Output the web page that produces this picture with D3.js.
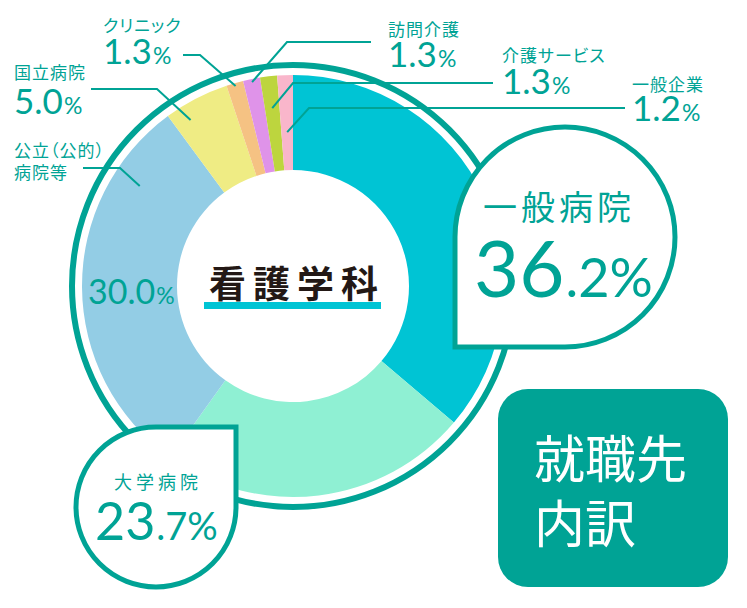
<!DOCTYPE html>
<html>
<head>
<meta charset="utf-8">
<script src="https://cdn.jsdelivr.net/npm/d3@7"></script>
<style>
  body { margin: 0; background: #fff; }
  svg { display: block; }
  text { font-family: "Noto Sans CJK JP", "Noto Sans", sans-serif; }
  .num { font-family: Lato, "Noto Sans", sans-serif; }
  .label { font-feature-settings: "palt"; }
</style>
</head>
<body>
<div id="chart"></div>
<script>
//////////////////////////////////////////////////////////////
///////////////////////// Data ///////////////////////////////
//////////////////////////////////////////////////////////////

var categories = ["一般病院", "大学病院", "公立（公的）病院等", "国立病院", "クリニック", "訪問介護", "介護サービス", "一般企業"];
var values = [36.2, 23.7, 30.0, 5.0, 1.3, 1.3, 1.3, 1.2];
var colors = ["#00c4d4", "#8ff0d3", "#93cde5", "#efec84", "#f5c283", "#df93e9", "#bdd53e", "#f9b6cb"];

var title = "看護学科";
var boxLines = ["就職先", "内訳"];

//////////////////////////////////////////////////////////////
/////////////////////// Settings /////////////////////////////
//////////////////////////////////////////////////////////////

var width = 747, height = 608;
var cx = 293, cy = 286;
var innerR = 116, outerR = 211, ringR = 221;
var teal = "#00a395";

//small labels: index into data, text lines, leader geometry
var smallLabels = [
  {i: 4, lines: ["クリニック"], tx: 103, ty: [32], ny: 64, x0: 183, elbow: [200, 55], r: 208, t: 0.5},
  {i: 3, lines: ["国立病院"], tx: 14, ty: [79], ny: 114, x0: 91, elbow: [157, 89], r: 195, t: 0.26},
  {i: 2, lines: ["公立（公的）", "病院等"], tx: 14, ty: [157, 179], ny: null, x0: 83, elbow: [120, 168], r: 183, t: 0.81},
  {i: 5, lines: ["訪問介護"], tx: 388, ty: [36], ny: 67, x0: 371, elbow: [287, 42], r: 208, t: 0.5},
  {i: 6, lines: ["介護サービス"], tx: 502, ty: [62], ny: 94, x0: 493, elbow: [293, 83], r: 179, t: 0.5},
  {i: 7, lines: ["一般企業"], tx: 632, ty: [91], ny: 121, x0: 625, elbow: [309, 108], r: 154, t: 0.5}
];

//////////////////////////////////////////////////////////////
///////////////////////// Chart //////////////////////////////
//////////////////////////////////////////////////////////////

var data = categories.map(function(c, k) { return {name: c, value: values[k], color: colors[k]}; });

var pie = d3.pie().sort(null).value(function(d) { return d.value; });
var arcs = pie(data);
var arc = d3.arc().innerRadius(innerR).outerRadius(outerR);

var svg = d3.select("#chart").append("svg")
    .attr("width", width)
    .attr("height", height);

//outer ring
svg.append("circle")
    .attr("cx", cx).attr("cy", cy).attr("r", ringR)
    .attr("fill", "none")
    .attr("stroke", teal)
    .attr("stroke-width", 6);

var donut = svg.append("g")
    .attr("transform", "translate(" + cx + "," + cy + ")");

donut.selectAll(".slice")
    .data(arcs).enter()
    .append("path")
        .attr("class", "slice")
        .attr("d", arc)
        .attr("fill", function(d) { return d.data.color; });

//point inside a slice
function slicePoint(a, r, t) {
  var ang = a.startAngle + t * (a.endAngle - a.startAngle);
  return [cx + r * Math.sin(ang), cy - r * Math.cos(ang)];
}

//number with smaller tail
function addNumber(sel, v, x, y, big, small, splitDecimal) {
  var s = v.toFixed(1);
  var head = splitDecimal ? s.split(".")[0] : s;
  var tail = splitDecimal ? "." + s.split(".")[1] + "%" : "%";
  var t = sel.append("text")
      .attr("class", "num")
      .attr("x", x).attr("y", y)
      .attr("fill", teal);
  t.append("tspan").attr("font-size", big).text(head);
  t.append("tspan").attr("font-size", small).attr("dx", 1).text(tail);
  return t;
}

//leader lines
svg.selectAll(".leader")
    .data(smallLabels).enter()
    .append("polyline")
        .attr("class", "leader")
        .attr("fill", "none")
        .attr("stroke", teal)
        .attr("stroke-width", 2)
        .attr("points", function(d) {
          var p = slicePoint(arcs[d.i], d.r, d.t);
          return [[d.x0, d.elbow[1]], d.elbow, p].map(function(q) { return q.join(","); }).join(" ");
        });

//small labels
smallLabels.forEach(function(d) {
  d.lines.forEach(function(line, k) {
    svg.append("text")
        .attr("class", "label")
        .attr("x", d.tx).attr("y", d.ty[k])
        .attr("fill", teal)
        .attr("font-size", 17)
        .attr("letter-spacing", 1)
        .text(line);
  });
  if (d.ny !== null) addNumber(svg, values[d.i], d.tx, d.ny, 35, 23, false);
});

//value inside the 公立 slice
addNumber(svg, values[2], 88, 304, 34, 23, false);

//center title
svg.append("rect")
    .attr("x", cx - 89).attr("y", 302)
    .attr("width", 177).attr("height", 7)
    .attr("fill", colors[0]);

svg.append("text")
    .attr("x", cx + 4).attr("y", 298)
    .attr("text-anchor", "middle")
    .attr("font-size", 37)
    .attr("font-weight", 700)
    .attr("letter-spacing", 7)
    .attr("fill", "#231815")
    .text(title);

//////////////////////////////////////////////////////////////
/////////////////////// Bubbles //////////////////////////////
//////////////////////////////////////////////////////////////

//一般病院 bubble, square corner at bottom left
var b1 = {x: 565, y: 237, r: 110};
svg.append("path")
    .attr("d", "M" + b1.x + "," + (b1.y - b1.r) +
      "A" + b1.r + "," + b1.r + " 0 0 1 " + (b1.x + b1.r) + "," + b1.y +
      "A" + b1.r + "," + b1.r + " 0 0 1 " + b1.x + "," + (b1.y + b1.r) +
      "L" + (b1.x - b1.r) + "," + (b1.y + b1.r) +
      "L" + (b1.x - b1.r) + "," + b1.y +
      "A" + b1.r + "," + b1.r + " 0 0 1 " + b1.x + "," + (b1.y - b1.r) + "Z")
    .attr("fill", "#fff")
    .attr("stroke", teal)
    .attr("stroke-width", 5);

svg.append("text")
    .attr("x", 483).attr("y", 220)
    .attr("font-size", 34)
    .attr("letter-spacing", 4)
    .attr("fill", teal)
    .text(categories[0]);

addNumber(svg, values[0], 474, 297, 78, 54, true);

//大学病院 bubble, square corner at top right
var b2 = {x: 156, y: 507, r: 80};
svg.append("path")
    .attr("d", "M" + b2.x + "," + (b2.y - b2.r) +
      "L" + (b2.x + b2.r) + "," + (b2.y - b2.r) +
      "L" + (b2.x + b2.r) + "," + b2.y +
      "A" + b2.r + "," + b2.r + " 0 0 1 " + b2.x + "," + (b2.y + b2.r) +
      "A" + b2.r + "," + b2.r + " 0 0 1 " + (b2.x - b2.r) + "," + b2.y +
      "A" + b2.r + "," + b2.r + " 0 0 1 " + b2.x + "," + (b2.y - b2.r) + "Z")
    .attr("fill", "#fff")
    .attr("stroke", teal)
    .attr("stroke-width", 5);

svg.append("text")
    .attr("x", 114).attr("y", 489)
    .attr("font-size", 18)
    .attr("letter-spacing", 4)
    .attr("fill", teal)
    .text(categories[1]);

addNumber(svg, values[1], 95, 540, 52, 38, true);

//就職先 内訳 box
svg.append("rect")
    .attr("x", 498).attr("y", 389)
    .attr("width", 230).attr("height", 198)
    .attr("rx", 30).attr("ry", 30)
    .attr("fill", teal);

svg.selectAll(".boxText")
    .data(boxLines).enter()
    .append("text")
        .attr("class", "boxText")
        .attr("x", 534)
        .attr("y", function(d, k) { return 478 + k * 65; })
        .attr("font-size", 51)
        .attr("fill", "#fff")
        .text(function(d) { return d; });
</script>
</body>
</html>
